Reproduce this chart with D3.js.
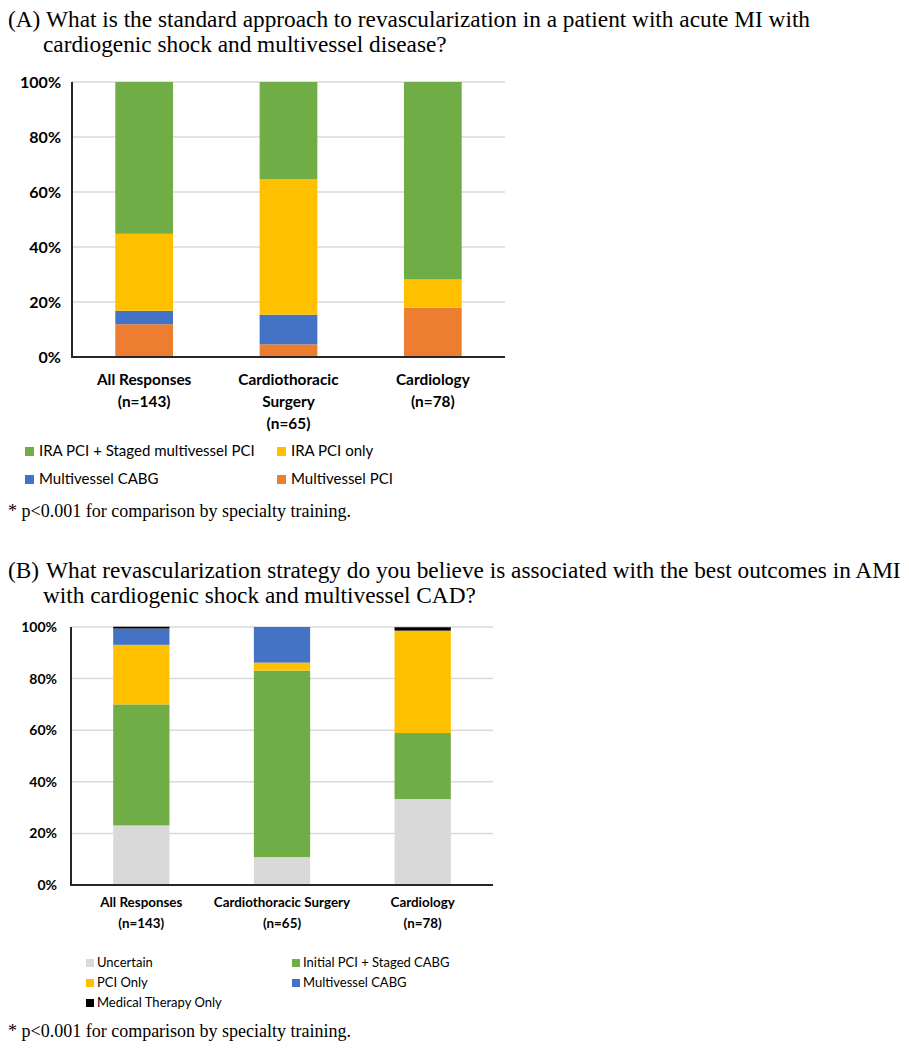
<!DOCTYPE html>
<html>
<head>
<meta charset="utf-8">
<script src="https://cdn.jsdelivr.net/npm/d3@7"></script>
<style>
  body { margin: 0; background: #fff; }
  svg { display: block; }
  .title { font-family: "Liberation Serif", "Times New Roman", serif; font-size: 23.3px; fill: #000; }
  .foot { font-family: "Liberation Serif", "Times New Roman", serif; font-size: 18px; fill: #000; }
  .tick text { font-family: Lato, "Open Sans", sans-serif; font-weight: bold; fill: #000; }
  .cat { font-family: Lato, "Open Sans", sans-serif; font-weight: bold; fill: #000; }
  .leg { font-family: Lato, "Open Sans", sans-serif; fill: #000; }
</style>
</head>
<body>
<svg id="chart" width="909" height="1050"></svg>
<script>
// ---------- DATA ----------
const categoriesA = [["All Responses", "(n=143)"], ["Cardiothoracic", "Surgery", "(n=65)"], ["Cardiology", "(n=78)"]];
const seriesNamesA = ["Multivessel PCI", "Multivessel CABG", "IRA PCI only", "IRA PCI + Staged multivessel PCI"];
const multivesselPCI_A = [11.9, 4.6, 17.9];
const multivesselCABG_A = [4.9, 10.8, 0];
const iraPCIOnly_A = [28.0, 49.2, 10.3];
const iraStaged_A = [55.2, 35.4, 71.8];
const legendOrderA = ["IRA PCI + Staged multivessel PCI", "IRA PCI only", "Multivessel CABG", "Multivessel PCI"];

const categoriesB = [["All Responses", "(n=143)"], ["Cardiothoracic Surgery", "(n=65)"], ["Cardiology", "(n=78)"]];
const seriesNamesB = ["Uncertain", "Initial PCI + Staged CABG", "PCI Only", "Multivessel CABG", "Medical Therapy Only"];
const uncertain_B = [23.1, 10.8, 33.3];
const initialStaged_B = [46.9, 72.3, 25.6];
const pciOnly_B = [23.1, 3.1, 39.7];
const multivesselCABG_B = [6.3, 13.8, 0];
const medical_B = [0.7, 0, 1.3];
const legendOrderB = ["Uncertain", "Initial PCI + Staged CABG", "PCI Only", "Multivessel CABG", "Medical Therapy Only"];

const yTicks = [0, 20, 40, 60, 80, 100];

const colors = {
  "IRA PCI + Staged multivessel PCI": "#70AD47",
  "IRA PCI only": "#FFC000",
  "Multivessel CABG": "#4472C4",
  "Multivessel PCI": "#ED7D31",
  "Uncertain": "#D9D9D9",
  "Initial PCI + Staged CABG": "#70AD47",
  "PCI Only": "#FFC000",
  "Medical Therapy Only": "#000000"
};

const svg = d3.select("#chart");

function titleBlock(label, lines, y0) {
  const t = svg.append("text").attr("class", "title");
  t.append("tspan").attr("x", 8).attr("y", y0).text(label);
  t.append("tspan").attr("x", 46).attr("y", y0).text(lines[0]);
  t.append("tspan").attr("x", 43).attr("y", y0 + 25).text(lines[1]);
}

function drawChart(cfg) {
  const rows = cfg.cats.map((c, i) => {
    const r = { key: i };
    cfg.series.forEach((s, j) => r[s] = cfg.values[j][i]);
    return r;
  });
  const stack = d3.stack().keys(cfg.series)(rows);
  const x = d3.scaleBand().domain(d3.range(cfg.cats.length)).range([cfg.x0, cfg.x1]).paddingInner(0.6).paddingOuter(0.3);
  const y = d3.scaleLinear().domain([0, 100]).range([cfg.y0, cfg.y1]);
  const g = svg.append("g");

  // gridlines
  g.append("g").selectAll("line").data(yTicks.filter(d => d > 0)).join("line")
    .attr("x1", cfg.x0).attr("x2", cfg.x1)
    .attr("y1", d => y(d)).attr("y2", d => y(d))
    .attr("stroke", "#d9d9d9").attr("stroke-width", 1.5);

  // bars
  g.append("g").selectAll("g").data(stack).join("g")
    .attr("fill", d => colors[d.key])
    .selectAll("rect").data(d => d).join("rect")
    .attr("x", (d, i) => x(i))
    .attr("width", x.bandwidth())
    .attr("y", d => y(d[1]))
    .attr("height", d => Math.max(0, y(d[0]) - y(d[1])));

  // y axis
  const ya = d3.axisLeft(y).tickValues(yTicks).tickFormat(d => d + "%").tickSize(0).tickPadding(cfg.tickPad);
  const yg = g.append("g").attr("transform", `translate(${cfg.x0},0)`).call(ya);
  yg.select(".domain").remove();
  yg.selectAll("text").style("font-size", cfg.tickSize + "px");
  g.append("line").attr("x1", cfg.x0).attr("x2", cfg.x0).attr("y1", cfg.y1).attr("y2", cfg.y0 + 1)
    .attr("stroke", "#262626").attr("stroke-width", 2);
  g.append("line").attr("x1", cfg.x0 - 1).attr("x2", cfg.x1).attr("y1", cfg.y0).attr("y2", cfg.y0)
    .attr("stroke", "#262626").attr("stroke-width", 2);

  // category labels
  cfg.cats.forEach((lines, i) => {
    const t = g.append("text").attr("class", "cat").attr("text-anchor", "middle")
      .style("font-size", cfg.catSize + "px");
    lines.forEach((ln, k) => {
      t.append("tspan").attr("x", x(i) + x.bandwidth() / 2).attr("y", cfg.catY + k * cfg.catLH).text(ln);
    });
  });

  // legend
  cfg.legend.forEach((name, i) => {
    const col = i % 2, row = Math.floor(i / 2);
    const lx = cfg.legX[col], ly = cfg.legY + row * cfg.legLH;
    g.append("rect").attr("x", lx).attr("y", ly - cfg.sq).attr("width", cfg.sq).attr("height", cfg.sq)
      .attr("fill", colors[name]);
    g.append("text").attr("class", "leg").attr("x", lx + cfg.sq + cfg.legGap).attr("y", ly)
      .style("font-size", cfg.legSize + "px").text(name);
  });

  svg.append("text").attr("class", "foot").attr("x", 8).attr("y", cfg.footY)
    .text("* p<0.001 for comparison by specialty training.");
}

titleBlock("(A)", ["What is the standard approach to revascularization in a patient with acute MI with",
  "cardiogenic shock and multivessel disease?"], 27);

drawChart({
  cats: categoriesA, series: seriesNamesA,
  values: [multivesselPCI_A, multivesselCABG_A, iraPCIOnly_A, iraStaged_A],
  x0: 72, x1: 505, y0: 357, y1: 82,
  tickPad: 11, tickSize: 16,
  catY: 385, catLH: 22, catSize: 15.4,
  legend: legendOrderA, legX: [25, 277], legY: 456, legLH: 28, sq: 9, legGap: 5, legSize: 15,
  footY: 517
});

titleBlock("(B)", ["What revascularization strategy do you believe is associated with the best outcomes in AMI",
  "with cardiogenic shock and multivessel CAD?"], 578);

drawChart({
  cats: categoriesB, series: seriesNamesB,
  values: [uncertain_B, initialStaged_B, pciOnly_B, multivesselCABG_B, medical_B],
  x0: 71, x1: 493, y0: 885, y1: 627,
  tickPad: 14, tickSize: 14,
  catY: 907, catLH: 21, catSize: 13.4,
  legend: legendOrderB, legX: [86, 292], legY: 967, legLH: 20, sq: 8, legGap: 3, legSize: 13,
  footY: 1037
});
</script>
</body>
</html>
